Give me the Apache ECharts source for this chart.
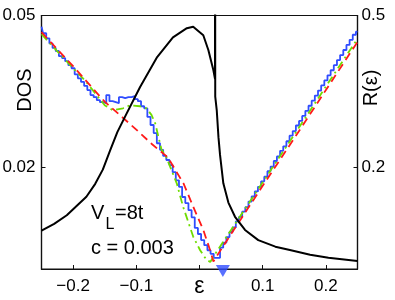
<!DOCTYPE html>
<html><head><meta charset="utf-8">
<script src="https://cdn.jsdelivr.net/npm/echarts@6/dist/echarts.min.js"></script>
<style>html,body{margin:0;padding:0;background:#fff}#c{width:395px;height:300px}</style>
</head><body><div id="c"></div>
<script>
// ---- data ----
const xTicks = [-0.2, -0.1, 0, 0.1, 0.2];
const dosTicks = [0.02, 0.05];
const rTicks = [0.2, 0.5];

// blue histogram DOS, bins starting at -0.25, width 0.005
const histStart = -0.25, histStep = 0.005;
const dosHist = [
  0.0478,0.0465,0.0455,0.0445,0.0436,0.0430,0.0420,0.0416,0.0410,0.0402,
  0.0396,0.0384,0.0376,0.0369,0.0361,0.0353,0.0343,0.0339,0.0333,0.0329,
  0.0327,0.0343,0.0331,0.0329,0.0327,0.0339,0.0337,0.0339,0.0339,0.0341,
  0.0335,0.0331,0.0321,0.0317,0.0300,0.0284,0.0268,0.0248,0.0235,0.0223,
  0.0215,0.0205,0.0191,0.0175,0.0162,0.0142,0.0130,0.0116,0.0102,0.0081,
  0.0069,0.0057,0.0047,0.0037,0.0030,0.0022,0.0022,0.0042,0.0052,0.0063,
  0.0073,0.0082,0.0094,0.0103,0.0113,0.0122,0.0133,0.0143,0.0153,0.0162,
  0.0173,0.0182,0.0193,0.0202,0.0213,0.0222,0.0233,0.0242,0.0252,0.0263,
  0.0272,0.0283,0.0292,0.0302,0.0312,0.0322,0.0332,0.0342,0.0352,0.0362,
  0.0372,0.0382,0.0392,0.0402,0.0412,0.0422,0.0432,0.0442,0.0452,0.0462,
  0.0468
];

// red dashed DOS
const redX = [-0.25,-0.2,-0.15,-0.1,-0.075,-0.05,-0.025,-0.01,0.006,0.016,0.022,0.05,0.1,0.15,0.2,0.25];
const redY = [0.0467,0.0400,0.0330,0.0275,0.0246,0.0220,0.0168,0.0123,0.0077,0.0040,0.0015,0.0069,0.0164,0.0258,0.0353,0.0448];

// green dash-dot DOS
const greenX = [-0.25,-0.2,-0.18,-0.15,-0.137,-0.121,-0.11,-0.094,-0.084,-0.076,-0.07,-0.065,-0.06,-0.054,-0.036,-0.026,-0.01,0.001,0.011,0.017,0.025,0.05,0.1,0.15,0.2,0.25];
const greenY = [0.0463,0.0396,0.0370,0.0323,0.0313,0.0317,0.0323,0.0321,0.0317,0.0304,0.0287,0.0261,0.0235,0.0225,0.0169,0.0123,0.0064,0.0037,0.0018,0.0014,0.0030,0.0077,0.0171,0.0265,0.0360,0.0454];

// black R(eps), right axis
const rX = [-0.25,-0.23,-0.21,-0.179,-0.165,-0.153,-0.142,-0.13,-0.115,-0.094,-0.067,-0.042,-0.02,-0.01,0.006,0.014,0.022,0.0245,0.0247,0.0249,0.0273,0.030,0.0325,0.0377,0.0457,0.0562,0.072,0.093,0.12,0.143,0.175,0.204,0.25];
const rY = [0.0755,0.089,0.106,0.1425,0.168,0.196,0.232,0.270,0.3075,0.359,0.418,0.457,0.475,0.478,0.461,0.432,0.392,0.375,0.9,0.34,0.313,0.26,0.225,0.169,0.131,0.103,0.077,0.057,0.044,0.0375,0.028,0.022,0.0158];

// marker
const markerX = [0.037];
const markerY = [-0.0004];

// ---- chart ----
const FONT = 'Liberation Sans, Arial, sans-serif';
const zip = (xs, ys) => xs.map((x, i) => [x, ys[i]]);
const histData = dosHist.map((v, i) => [histStart + i * histStep, v]);

const chart = echarts.init(document.getElementById('c'), null, {renderer: 'canvas'});
chart.setOption({
  animation: false,
  backgroundColor: '#fff',
  grid: {left: 41.5, right: 37.5, top: 15.5, bottom: 31, show: true, borderColor: '#111', borderWidth: 1.2,
    containLabel: false, outerBoundsMode: 'none'},
  xAxis: {
    type: 'value', min: -0.25, max: 0.25,
    axisLine: {show: true, onZero: false, lineStyle: {color: '#111', width: 1.2}},
    axisTick: {show: true, inside: true, length: 4, customValues: xTicks, lineStyle: {color: '#111'}},
    axisLabel: {
      customValues: xTicks, margin: 9, color: '#000', fontFamily: FONT, fontSize: 17,
      formatter: v => (Math.abs(v) < 1e-9 ? '{e|ε}' : (v < 0 ? '\u2212' + Math.abs(v).toFixed(1) : v.toFixed(1))),
      rich: {e: {fontSize: 23, fontFamily: FONT, color: '#000', padding: [-3, 0, 0, 0]}}
    },
    splitLine: {show: false}
  },
  yAxis: [{
    type: 'value', min: 0, max: 0.05, position: 'left',
    axisLine: {show: true, onZero: false, lineStyle: {color: '#111', width: 1.2}},
    axisTick: {show: true, inside: true, length: 4, customValues: dosTicks, lineStyle: {color: '#111'}},
    axisLabel: {customValues: dosTicks, margin: 6, color: '#000', fontFamily: FONT, fontSize: 17,
      formatter: v => v.toFixed(2)},
    splitLine: {show: false}
  }, {
    type: 'value', min: 0, max: 0.5, position: 'right',
    axisLine: {show: true, onZero: false, lineStyle: {color: '#111', width: 1.2}},
    axisTick: {show: true, inside: true, length: 4, customValues: rTicks, lineStyle: {color: '#111'}},
    axisLabel: {customValues: rTicks, margin: 4, color: '#000', fontFamily: FONT, fontSize: 17,
      formatter: v => v.toFixed(1)},
    splitLine: {show: false}
  }],
  series: [
    {type: 'line', name: 'hist', data: histData, step: 'middle', showSymbol: false, yAxisIndex: 0,
      lineStyle: {color: '#2f4cff', width: 1.8}, z: 2},
    {type: 'line', name: 'green', data: zip(greenX, greenY), showSymbol: false, yAxisIndex: 0,
      lineStyle: {color: '#6fdc00', width: 1.8, type: [8, 4, 2, 4]}, z: 3},
    {type: 'line', name: 'red', data: zip(redX, redY), showSymbol: false, yAxisIndex: 0,
      lineStyle: {color: '#ff1a1a', width: 1.8, type: [8, 5]}, z: 4},
    {type: 'line', name: 'R', data: zip(rX, rY), showSymbol: false, yAxisIndex: 1, clip: true,
      lineStyle: {color: '#000', width: 2, join: 'round'}, z: 5},
    {type: 'scatter', name: 'mark', data: zip(markerX, markerY), yAxisIndex: 0, clip: false,
      symbol: 'triangle', symbolRotate: 180, symbolSize: [14, 12],
      itemStyle: {color: '#2f4cff'}, z: 10}
  ],
  graphic: [
    {type: 'text', x: 25, y: 90, rotation: Math.PI / 2, style: {text: 'DOS', font: '20px ' + FONT, fill: '#000', align: 'center', verticalAlign: 'middle'}},
    {type: 'text', x: 371, y: 88, rotation: Math.PI / 2, style: {text: 'R(ε)', font: '20px ' + FONT, fill: '#000', align: 'center', verticalAlign: 'middle'}},
    {type: 'text', x: 91, y: 213, style: {text: 'V', font: '20px ' + FONT, fill: '#000', align: 'left', verticalAlign: 'middle'}},
    {type: 'text', x: 105.5, y: 224.5, style: {text: 'L', font: '16px ' + FONT, fill: '#000', align: 'left', verticalAlign: 'middle'}},
    {type: 'text', x: 115, y: 213, style: {text: '=8t', font: '20px ' + FONT, fill: '#000', align: 'left', verticalAlign: 'middle'}},
    {type: 'text', x: 91, y: 248.5, style: {text: 'c = 0.003', font: '20px ' + FONT, fill: '#000', align: 'left', verticalAlign: 'middle'}}
  ]
});
</script>
</body></html>
